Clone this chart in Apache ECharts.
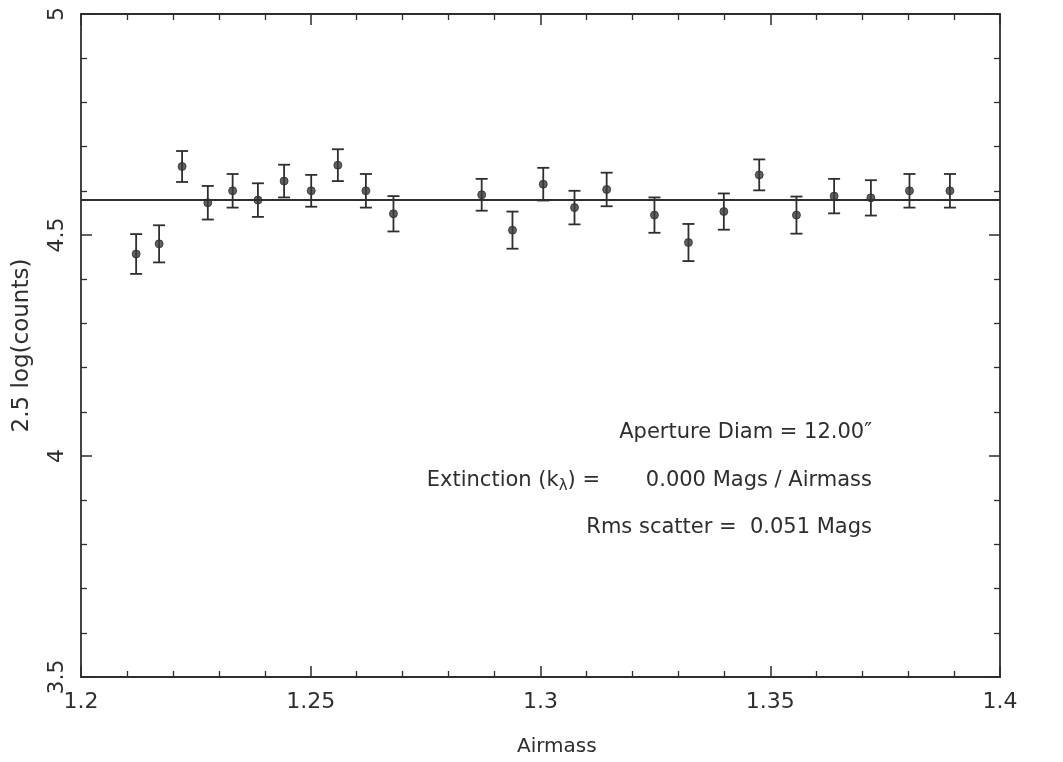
<!DOCTYPE html>
<html>
<head>
<meta charset="utf-8">
<script src="https://cdn.jsdelivr.net/npm/echarts@6/dist/echarts.min.js"></script>
<style>
  html, body { margin: 0; padding: 0; background: #fff; }
  #chart { width: 1063px; height: 762px; }
</style>
</head>
<body>
<div id="chart"></div>
<script>
// airmass of each exposure
const airmass = [1.212, 1.217, 1.222, 1.2276, 1.233, 1.2385, 1.2442, 1.2501, 1.2559, 1.262, 1.268,
  1.2872, 1.2939, 1.3006, 1.3074, 1.3144, 1.3248, 1.3322, 1.3399, 1.3476, 1.3557,
  1.3639, 1.3719, 1.3803, 1.3891]
// 2.5 log(counts)
const mag = [4.457, 4.480, 4.655, 4.573, 4.600, 4.579, 4.622, 4.600, 4.658, 4.600, 4.548,
  4.591, 4.511, 4.615, 4.562, 4.603, 4.545, 4.483, 4.553, 4.636, 4.545,
  4.588, 4.584, 4.600, 4.600]
// half length of the error bars
const magErr = [0.045, 0.042, 0.035, 0.038, 0.038, 0.038, 0.037, 0.036, 0.036, 0.038, 0.040,
  0.036, 0.042, 0.037, 0.038, 0.038, 0.040, 0.042, 0.041, 0.035, 0.042,
  0.039, 0.040, 0.038, 0.038]
// zero-extinction fit level
const fitLevel = 4.576

const ink = '#2e2e2e'
const font = 'DejaVu Sans'

const chart = echarts.init(document.getElementById('chart'))

// 坐标轴公共样式：刻度朝内，四边都画
const axisBase = {
  axisLine: { show: true, onZero: false, lineStyle: { color: ink, width: 1.8 } },
  axisTick: { show: true, inside: true, length: 11, lineStyle: { color: ink, width: 1.5 } },
  minorTick: { show: true, splitNumber: 5, length: 6, lineStyle: { color: ink, width: 1.3 } },
  splitLine: { show: false }
}

const errData = airmass.map((x, i) => [x, mag[i] - magErr[i], mag[i] + magErr[i]])

const option = {
  backgroundColor: '#fff',
  animation: false,
  grid: { left: 81, right: 63, top: 14, bottom: 85 },
  xAxis: [
    {
      ...axisBase,
      type: 'value', position: 'bottom', min: 1.2, max: 1.4, interval: 0.05,
      axisLabel: { color: ink, fontFamily: font, fontSize: 22, margin: 14 }
    },
    {
      ...axisBase,
      type: 'value', position: 'top', min: 1.2, max: 1.4, interval: 0.05,
      axisLabel: { show: false }
    }
  ],
  yAxis: [
    {
      ...axisBase,
      type: 'value', position: 'left', min: 3.5, max: 5, interval: 0.5,
      name: '2.5 log(counts)', nameLocation: 'middle', nameGap: 47,
      nameTextStyle: { color: ink, fontFamily: font, fontSize: 23 },
      axisLabel: { color: ink, fontFamily: font, fontSize: 22, rotate: 90, margin: 13 }
    },
    {
      ...axisBase,
      type: 'value', position: 'right', min: 3.5, max: 5, interval: 0.5,
      axisLabel: { show: false }
    }
  ],
  series: [
    {
      type: 'custom',
      renderItem: function (params, api) {
        const lo = api.coord([api.value(0), api.value(1)])
        const hi = api.coord([api.value(0), api.value(2)])
        const hw = 6
        const style = { stroke: ink, lineWidth: 1.8 }
        return {
          type: 'group',
          children: [
            { type: 'line', shape: { x1: lo[0], y1: lo[1], x2: hi[0], y2: hi[1] }, style },
            { type: 'line', shape: { x1: lo[0] - hw, y1: lo[1], x2: lo[0] + hw, y2: lo[1] }, style },
            { type: 'line', shape: { x1: hi[0] - hw, y1: hi[1], x2: hi[0] + hw, y2: hi[1] }, style }
          ]
        }
      },
      encode: { x: 0, y: [1, 2] },
      data: errData,
      z: 2
    },
    {
      type: 'scatter',
      symbol: 'circle',
      symbolSize: 8,
      itemStyle: { color: '#3a3a3a', borderColor: ink, borderWidth: 1 },
      data: airmass.map((x, i) => [x, mag[i]]),
      z: 3,
      markLine: {
        silent: true,
        symbol: ['none', 'none'],
        label: { show: false },
        lineStyle: { color: ink, width: 1.8, type: 'solid' },
        data: [{ yAxis: fitLevel }]
      }
    }
  ],
  graphic: [
    {
      type: 'text', left: 517, top: 737,
      style: { text: 'Airmass', fill: ink, font: '20px "DejaVu Sans"' }
    },
    {
      type: 'text', x: 872, y: 433,
      style: {
        text: 'Aperture Diam = 12.00\u2033', fill: ink, font: '21px "DejaVu Sans"',
        align: 'right', verticalAlign: 'middle'
      }
    },
    {
      type: 'text', x: 600, y: 481,
      style: {
        text: 'Extinction (k{s|\u03bb}) =', fill: ink, font: '21px "DejaVu Sans"',
        align: 'right', verticalAlign: 'middle',
        rich: { s: { fontSize: 15, fontFamily: font, fill: ink, padding: [10, 0, 0, 0] } }
      }
    },
    {
      type: 'text', x: 872, y: 481,
      style: {
        text: '0.000 Mags / Airmass', fill: ink, font: '21px "DejaVu Sans"',
        align: 'right', verticalAlign: 'middle'
      }
    },
    {
      type: 'text', x: 872, y: 528,
      style: {
        text: 'Rms scatter =  0.051 Mags', fill: ink, font: '21px "DejaVu Sans"',
        align: 'right', verticalAlign: 'middle'
      }
    }
  ]
}

chart.setOption(option)
</script>
</body>
</html>
